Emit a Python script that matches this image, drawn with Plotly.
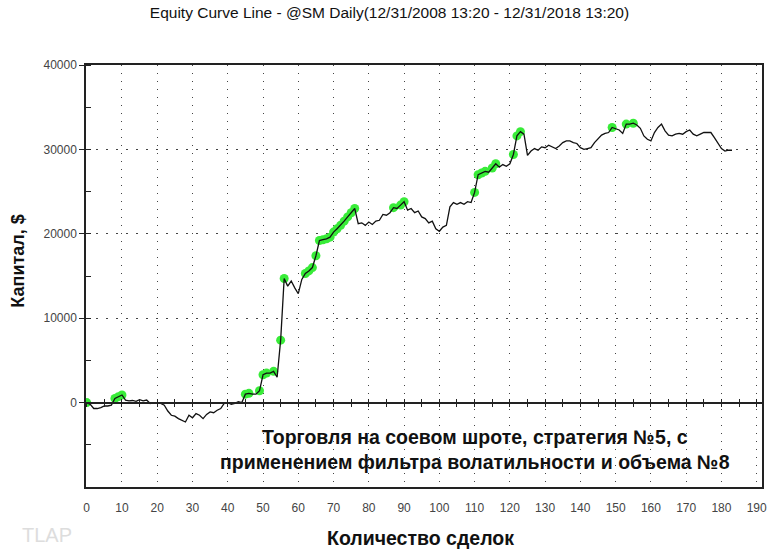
import plotly.graph_objects as go

# ---- data ----
trades = list(range(0, 184))
equity = [
    0, -200, -700, -700, -600, -400, -400, -300, 500, 700,            # 0-9
    900, 300, 200, 250, 150, 350, 200, 300, -100, 0,                   # 10-19
    -50, -100, -300, -1000, -1500, -1600, -1900, -2100, -2300, -1500,  # 20-29
    -1800, -1300, -1500, -1900, -1400, -1100, -1200, -900, -700, -100, # 30-39
    0, -200, -100, 100, 0, 1000, 1100, 1000, 1000, 1400,               # 40-49
    3300, 3500, 3500, 3700, 3000, 7400, 14700, 13800, 14400, 13600,    # 50-59
    12900, 14600, 15300, 15600, 16000, 17400, 19200, 19300, 19400, 19600,  # 60-69
    20200, 20600, 21000, 21500, 22000, 22500, 23000, 21200, 21300, 21000,  # 70-79
    21400, 21100, 21500, 21600, 22300, 22200, 22500, 23100, 23000, 23400,  # 80-89
    23800, 22800, 23000, 22500, 22700, 22000, 21800, 21300, 21500, 20600,  # 90-99
    20300, 20800, 21000, 23200, 23700, 23500, 23700, 23500, 23800, 23700,  # 100-109
    24900, 27000, 27200, 27400, 27300, 27800, 28300, 27900, 28200, 28000,  # 110-119
    28300, 29400, 31600, 32100, 31800, 29300, 29800, 30100, 29900, 30300,  # 120-129
    30200, 30500, 30300, 30100, 30400, 30800, 31000, 31000, 30800, 30700,  # 130-139
    30200, 30000, 30100, 30200, 30800, 31300, 31700, 31900, 32000, 32600,  # 140-149
    32400, 32300, 31900, 33000, 33000, 33100, 32900, 32500, 31600, 31200,  # 150-159
    31000, 32000, 32600, 33000, 32200, 31700, 31600, 31800, 31900, 31800,  # 160-169
    32100, 32300, 31800, 31600, 31800, 32000, 32000, 32000, 31400, 30700,  # 170-179
    30100, 29800, 29900, 29900,                                        # 180-183
]

x_ticks = list(range(0, 200, 10))
y_ticks = [0, 10000, 20000, 30000, 40000]

title_text = "Equity Curve Line - @SM Daily(12/31/2008 13:20 - 12/31/2018 13:20)"
x_title = "Количество сделок"
y_title = "Капитал, $"
note_text = "Торговля на соевом шроте, стратегия №5, с<br>применением фильтра волатильности и объема №8"
watermark = "TLAP"

# new equity highs are highlighted in green
hx, hy = [], []
run_max = None
for t, v in zip(trades, equity):
    if run_max is None or v > run_max:
        hx.append(t)
        hy.append(v)
        run_max = v

fig = go.Figure()
fig.add_trace(go.Scatter(
    x=hx, y=hy, mode="markers",
    marker=dict(color="#38ec38", size=9, line=dict(width=0)),
    hoverinfo="skip", showlegend=False,
))
fig.add_trace(go.Scatter(
    x=trades, y=equity, mode="lines",
    line=dict(color="#111111", width=1.3),
    showlegend=False,
))

tick_font = dict(family="Liberation Sans Narrow, Arial Narrow, Liberation Sans, Arial", size=12, color="#444444")

fig.update_layout(
    width=779, height=557,
    margin=dict(l=86, r=14, t=65, b=70),
    paper_bgcolor="white", plot_bgcolor="white",
    title=dict(text=title_text, x=0.5, xanchor="center", y=0.978, yanchor="middle",
               font=dict(family="Liberation Sans Narrow, Arial Narrow, Liberation Sans, Arial",
                         size=15.5, color="#111111")),
    xaxis=dict(
        range=[-0.2, 191.5], tickmode="array", tickvals=x_ticks,
        ticktext=[str(v) for v in x_ticks], tickfont=tick_font,
        showgrid=True, gridcolor="#444444", gridwidth=1, griddash="1px,7px",
        showline=True, linecolor="#222222", linewidth=1.5, mirror=True,
        ticks="", ticklabelstandoff=9, zeroline=False,
    ),
    xaxis2=dict(
        range=[-0.2, 191.5], overlaying="x", anchor="free", position=0.2,
        showline=True, linecolor="#222222", linewidth=1.5,
        ticks="outside", ticklen=4, tickcolor="#222222", dtick=5, tick0=0,
        showticklabels=False, showgrid=False, zeroline=False,
    ),
    xaxis3=dict(
        range=[-0.2, 191.5], overlaying="x", anchor="free", position=0.2,
        showline=False, ticks="inside", ticklen=4, tickcolor="#222222", dtick=5, tick0=0,
        showticklabels=False, showgrid=False, zeroline=False,
    ),
    yaxis=dict(
        range=[-10000, 40000], tickmode="array", tickvals=y_ticks,
        ticktext=[str(v) for v in y_ticks], tickfont=tick_font,
        showgrid=True, gridcolor="#444444", gridwidth=1, griddash="2px,8px",
        showline=True, linecolor="#222222", linewidth=1.5, mirror=True,
        ticks="outside", ticklen=5, tickcolor="#222222",
        minor=dict(dtick=5000, tick0=0, ticks="inside", ticklen=5, tickcolor="#222222", showgrid=False),
        zeroline=False,
    ),
    annotations=[
        dict(text="<b>" + note_text + "</b>", x=110, y=-5600, xref="x", yref="y", showarrow=False,
             font=dict(family="Liberation Sans, Arial", size=19.5, color="#111111"),
             align="center", xanchor="center", yanchor="middle"),
        dict(text="<b>" + x_title + "</b>", x=0.495, y=-0.12, xref="paper", yref="paper",
             showarrow=False, xanchor="center", yanchor="middle",
             font=dict(family="Liberation Sans, Arial", size=19.5, color="#111111")),
        dict(text="<b>" + y_title + "</b>", x=-0.1, y=0.535, xref="paper", yref="paper",
             showarrow=False, textangle=-90, xanchor="center", yanchor="middle",
             font=dict(family="Liberation Sans, Arial", size=18, color="#111111")),
        dict(text=watermark, x=-0.058, y=-0.114, xref="paper", yref="paper",
             showarrow=False, xanchor="center", yanchor="middle",
             font=dict(family="Liberation Sans, Arial", size=20, color="#dddddd")),
    ],
)

# attach hidden traces so the overlay axes render
fig.add_trace(go.Scatter(x=[None], y=[None], xaxis="x2", showlegend=False, hoverinfo="skip"))
fig.add_trace(go.Scatter(x=[None], y=[None], xaxis="x3", showlegend=False, hoverinfo="skip"))

fig.write_html("out.html")
